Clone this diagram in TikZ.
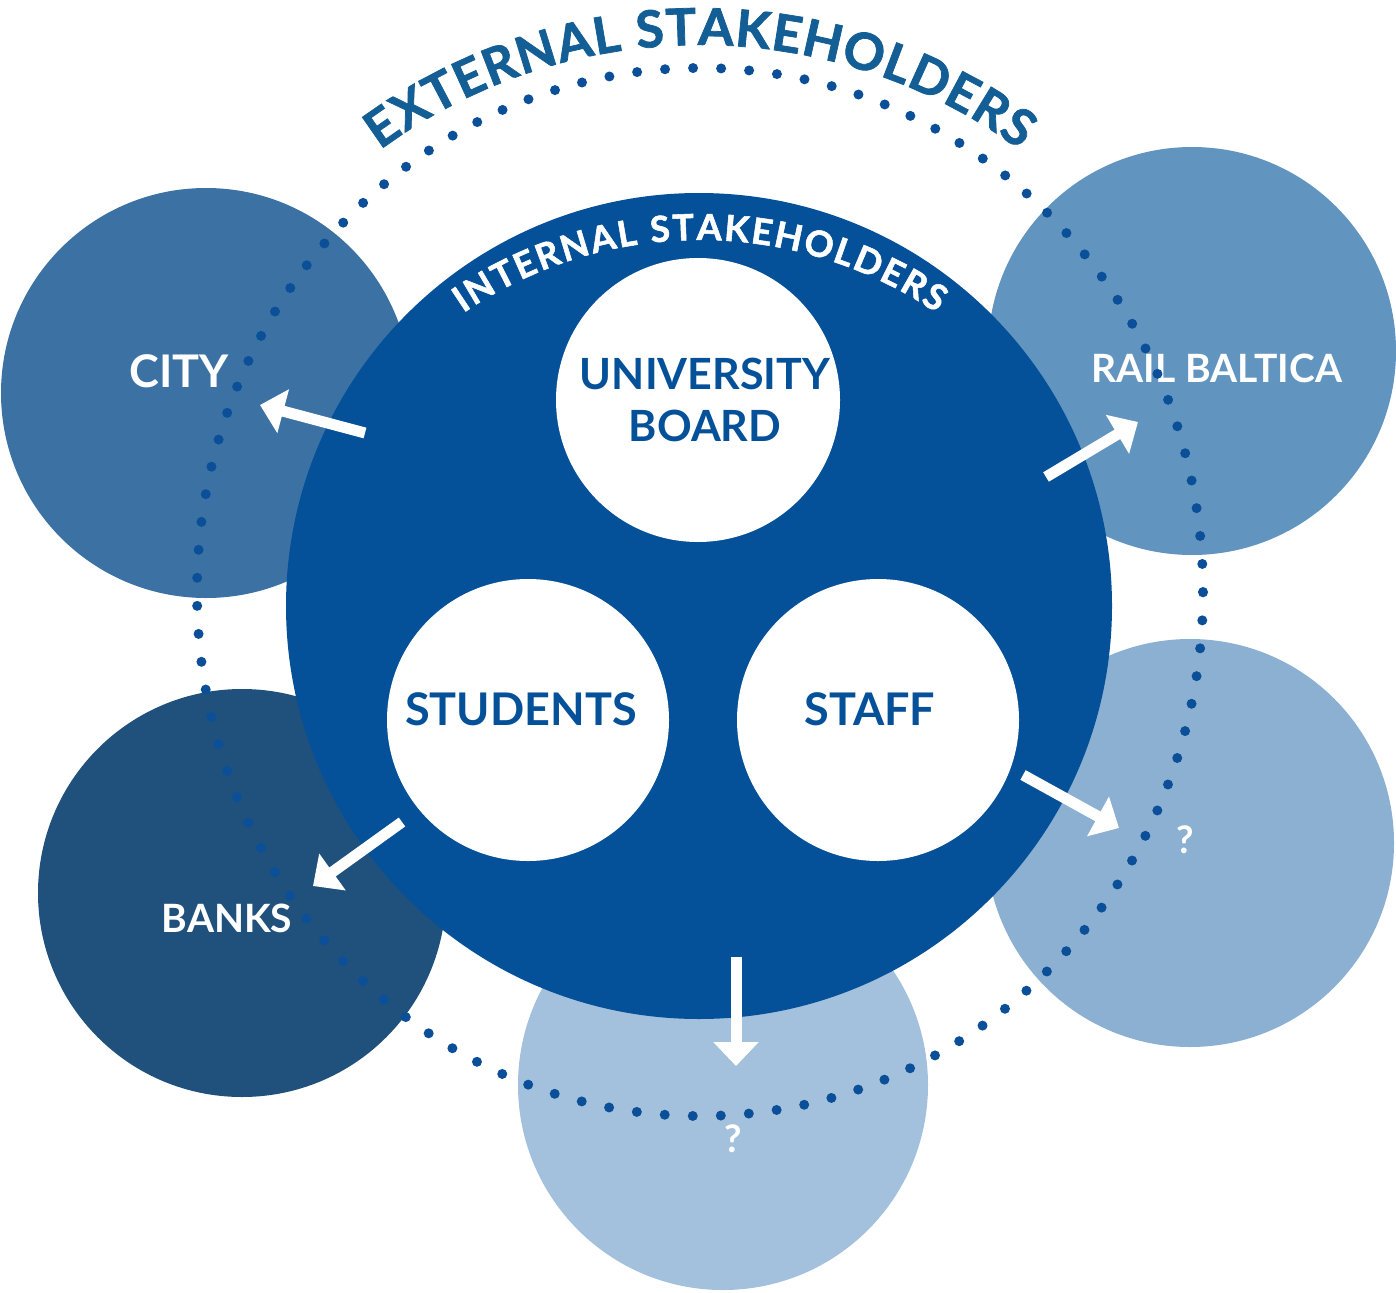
\documentclass[tikz,border=0pt]{standalone}
\usepackage{fontspec}
% every text in this figure is set in the bold face
\setmainfont{Lato}[UprightFont={* Bold},BoldFont={* Bold}]
% heavier cut for the two curved ring titles
\newfontfamily\ringfont{Lato}[UprightFont={* Bold},FakeBold=1.5]
\usetikzlibrary{arrows.meta}

\definecolor{hubblue}{RGB}{4,80,153}
\definecolor{dotblue}{RGB}{10,79,152}
\definecolor{extblue}{RGB}{20,94,150}
\definecolor{citycol}{RGB}{60,114,163}
\definecolor{railcol}{RGB}{98,148,192}
\definecolor{eastcol}{RGB}{139,176,210}
\definecolor{southcol}{RGB}{163,193,220}
\definecolor{bankcol}{RGB}{31,81,124}

% letters set one by one on a circular arc, centred on the top of the circle
% #1,#2 centre  #3 radius  #4 font size  #5 tracking  #6 colour  #7 name prefix
% #8 comma list of letters, * marks a word space
\newdimen\ctpos
\newdimen\ctw
\newbox\ctbox
\def\ctgap{*}
\newcommand\ctmeasure[1]{%
  \ifx\ch\ctgap
    \ctw=#1pt \ctw=0.26\ctw
  \else
    \setbox\ctbox=\hbox{\pgfinterruptpicture
      \ringfont\fontsize{#1}{#1}\selectfont\ch\endpgfinterruptpicture}%
    \ctw=\wd\ctbox
  \fi}
\newcommand\curvedtitle[8]{%
  \global\ctpos=0pt
  \foreach \ch in {#8}{%
    \ctmeasure{#4}%
    \global\advance\ctpos by \ctw
    \global\advance\ctpos by #5pt
  }%
  \global\advance\ctpos by -#5pt
  \pgfmathsetmacro\ctstart{90+deg(\the\ctpos/2/#3)}%
  \global\ctpos=0pt
  \foreach \ch [count=\k] in {#8}{%
    \ctmeasure{#4}%
    \pgfmathsetmacro\ctang{\ctstart-deg((\the\ctpos+\the\ctw/2)/#3)}%
    \pgfmathsetmacro\ctrot{\ctang-90}%
    \pgfmathsetmacro\ctx{#1+#3*cos(\ctang)}%
    \pgfmathsetmacro\cty{#2+#3*sin(\ctang)}%
    \ifx\ch\ctgap\else
      \node[anchor=base,inner sep=0pt,text=#6,
        font=\ringfont\fontsize{#4}{#4}\selectfont,rotate=\ctrot] (#7\k) at (\ctx,\cty) {\ch};
    \fi
    \global\advance\ctpos by \ctw
    \global\advance\ctpos by #5pt
  }%
}

\begin{document}
\begin{tikzpicture}[x=1pt,y=1pt,
  disc/.style={circle,inner sep=0pt,outer sep=0pt,draw=none,minimum size=#1},
  outlabel/.style={text=white,inner sep=0pt,anchor=base,
    font=\fontsize{#1}{#1}\selectfont},
  inlabel/.style={text=hubblue,inner sep=0pt,anchor=base,
    font=\fontsize{#1}{#1}\selectfont},
  flow/.style={white,line width=11pt,
    -{Triangle[width=44pt,length=24pt]}},
  dotring/.style={draw=dotblue,line width=10pt,line cap=round,
    dash pattern=on 0pt off 28.06pt}
]
\useasboundingbox (0,0) rectangle (1396,-1292);
\fill[white] (0,0) rectangle (1396,-1292);

% external stakeholder discs
\node[disc=410pt,fill=citycol]  (city)  at (206,-393)  {};
\node[disc=408pt,fill=railcol]  (rail)  at (1192,-351) {};
\node[disc=408pt,fill=eastcol]  (east)  at (1190,-843) {};
\node[disc=410pt,fill=southcol] (south) at (723,-1085) {};
\node[disc=408pt,fill=bankcol]  (banks) at (242,-893)  {};

% their labels
\node[outlabel=45] (citylbl)  at (179,-387)  {CITY};
\node[outlabel=39] (raillbl)  at (1217,-382) {RAIL BALTICA};
\node[outlabel=39] (banklbl)  at (227,-932)  {BANKS};
\node[outlabel=38] (eastlbl)  at (1185,-853) {?};
\node[outlabel=38] (southlbl) at (733,-1152) {?};

% dotted boundary of the external ring
\draw[dotring] (700,-592) ellipse [x radius=503, y radius=524];

% ring title
\curvedtitle{700}{-585}{540}{51}{1}{extblue}{ext}%
  {E,X,T,E,R,N,A,L,*,S,T,A,K,E,H,O,L,D,E,R,S}

% internal stakeholders
\node[disc=826pt,fill=hubblue] (hub) at (699,-606) {};
\curvedtitle{700}{-660}{420}{36}{2}{white}{int}%
  {I,N,T,E,R,N,A,L,*,S,T,A,K,E,H,O,L,D,E,R,S}

\node[disc=284pt,fill=white] (board)    at (698,-400) {};
\node[disc=282pt,fill=white] (students) at (528,-720) {};
\node[disc=282pt,fill=white] (staff)    at (878,-720) {};

\node[inlabel=43] (boardlbl1) at (705,-389) {UNIVERSITY};
\node[inlabel=43] (boardlbl2) at (705,-441) {BOARD};
\node[inlabel=45] (studlbl)   at (521,-725) {STUDENTS};
\node[inlabel=45] (stafflbl)  at (870,-725) {STAFF};

% outgoing relations
\coordinate (c1s) at (365,-433);  \coordinate (c1e) at (260,-405);
\coordinate (c2s) at (1046,-477); \coordinate (c2e) at (1138,-422);
\coordinate (c3s) at (402,-822);  \coordinate (c3e) at (313,-886);
\coordinate (c4s) at (1023,-775); \coordinate (c4e) at (1119,-828);
\coordinate (c5s) at (736,-957);  \coordinate (c5e) at (736,-1066);
\draw[flow] (c1s) -- (c1e);
\draw[flow] (c2s) -- (c2e);
\draw[flow] (c3s) -- (c3e);
\draw[flow] (c4s) -- (c4e);
\draw[flow] (c5s) -- (c5e);
\end{tikzpicture}
\end{document}
